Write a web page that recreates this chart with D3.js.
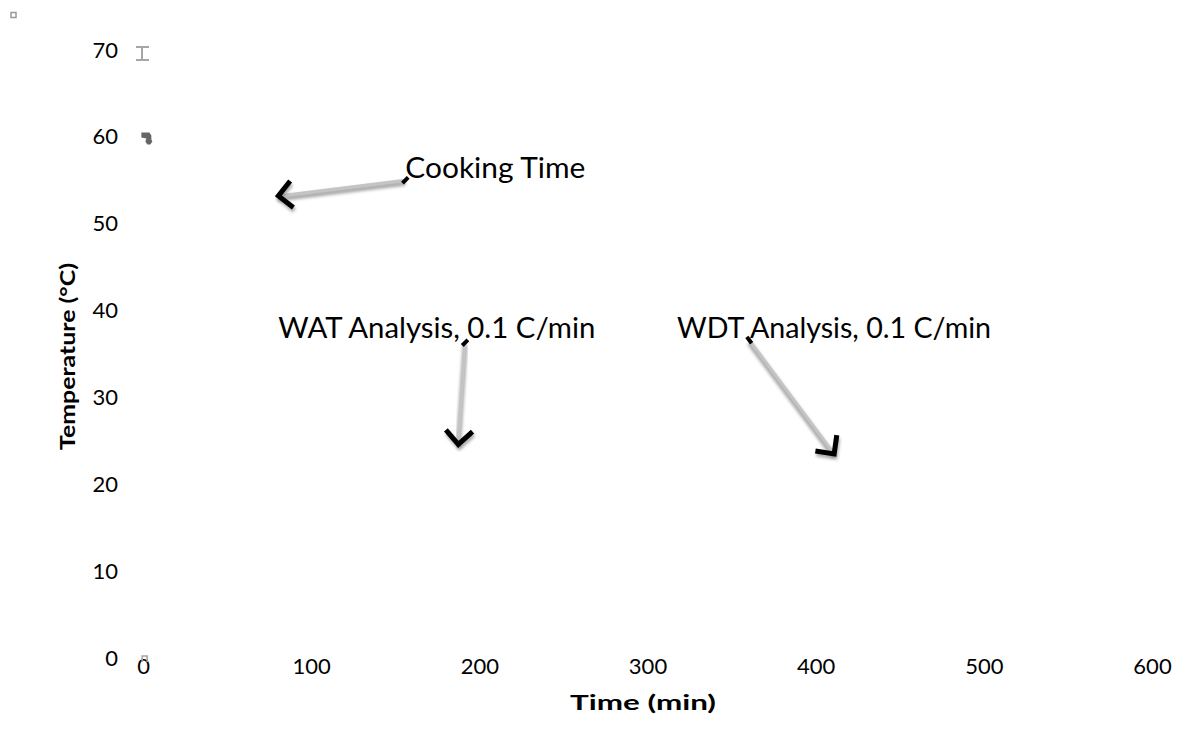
<!DOCTYPE html>
<html><head><meta charset="utf-8">
<script src="https://cdn.jsdelivr.net/npm/d3@7"></script>
<style>body{margin:0;background:#fff;} svg{display:block;}</style>
</head><body>
<svg id="chart" width="1198" height="745"></svg>
<script>
const xTicks = [0, 100, 200, 300, 400, 500, 600];
const yTicks = [0, 10, 20, 30, 40, 50, 60, 70];
const xTitle = "Time (min)";
const yTitle = "Temperature (°C)";
// series points (collapsed near time 0)
const errorBarPoint = [{x: 0, y: 70}];
const darkPoint = [{x: 2, y: 59.8}];
const lowPoint = [{x: 1, y: 0}];
// annotations: text anchor (data units) and arrow from -> to (data units)
const annoTexts = ["Cooking Time", "WAT Analysis, 0.1 C/min", "WDT Analysis, 0.1 C/min"];
const annoTextX = [156, 80.5, 317.6];
const annoTextY = [55.3, 36.8, 36.8];
const annoFromX = [156, 191.5, 360.5];
const annoFromY = [55.0, 36.3, 36.6];
const annoToX = [80.5, 187.5, 411];
const annoToY = [53.2, 24.6, 23.5];

const svg = d3.select("#chart");
const x = d3.scaleLinear().domain([0, 600]).range([143, 1152]);
const y = d3.scaleLinear().domain([0, 70]).range([658, 50]);
const font = "Lato, 'Open Sans', sans-serif";

const defs = svg.append("defs");
defs.append("filter").attr("id", "blur").attr("x", "-30%").attr("y", "-30%").attr("width", "160%").attr("height", "160%")
  .append("feGaussianBlur").attr("stdDeviation", 1.8);

// axes (lines hidden, labels only)
const xAxis = svg.append("g").attr("transform", `translate(0,${y(0)})`)
  .call(d3.axisBottom(x).tickValues(xTicks).tickSize(0).tickPadding(0));
xAxis.select(".domain").remove();
xAxis.selectAll("text").attr("font-family", font).attr("font-size", 22).attr("fill", "#000");

const yAxis = svg.append("g").attr("transform", `translate(${x(0)},0)`)
  .call(d3.axisLeft(y).tickValues(yTicks).tickSize(0).tickPadding(25));
yAxis.select(".domain").remove();
yAxis.selectAll("text").attr("font-family", font).attr("font-size", 22).attr("fill", "#000");

svg.append("text").attr("x", 570).attr("y", 710)
  .attr("font-family", font).attr("font-weight", "bold")
  .attr("font-size", 20).attr("textLength", 146).attr("lengthAdjust", "spacingAndGlyphs").text(xTitle);
svg.append("text").attr("transform", `translate(75,450) rotate(-90)`)
  .attr("font-family", font).attr("font-weight", "bold")
  .attr("font-size", 20).attr("textLength", 187).attr("lengthAdjust", "spacingAndGlyphs").text(yTitle);

// legend-like small square
svg.append("rect").attr("x", 11).attr("y", 12.5).attr("width", 5).attr("height", 5)
  .attr("fill", "none").attr("stroke", "#999").attr("stroke-width", 1.5);

// error bar glyph
errorBarPoint.forEach(d => {
  const g = svg.append("g").attr("stroke", "#a6a6a6").attr("stroke-width", 2).attr("fill", "none");
  g.append("line").attr("x1", x(d.x) - 7).attr("x2", x(d.x) + 6).attr("y1", y(d.y) - 3).attr("y2", y(d.y) - 3);
  g.append("line").attr("x1", x(d.x) - 1).attr("x2", x(d.x) - 1).attr("y1", y(d.y) - 3).attr("y2", y(d.y) + 10);
  g.append("line").attr("x1", x(d.x) - 7).attr("x2", x(d.x) + 6).attr("y1", y(d.y) + 10).attr("y2", y(d.y) + 10);
});
// dark marker
darkPoint.forEach(d => {
  const cx = x(d.x), cy = y(d.y);
  svg.append("path")
    .attr("d", `M${cx-5},${cy-6} L${cx+3},${cy-6} L${cx+5},${cy-3} L${cx+5},${cy+1} L${cx+6},${cy+3} L${cx+4},${cy+6} L${cx+1},${cy+6} L${cx-1},${cy+3} L${cx},${cy} L${cx-5},${cy-1} Z`)
    .attr("fill", "#666");
});
// low marker
lowPoint.forEach(d => {
  const cx = x(d.x), cy = y(d.y);
  svg.append("path").attr("d", `M${cx-2.5},${cy+4} L${cx-2.5},${cy-2} L${cx+2.5},${cy-2} L${cx+2.5},${cy+4}`)
    .attr("fill", "none").attr("stroke", "#a6a6a6").attr("stroke-width", 1.6);
});

// annotations
const textLens = [180, 317, 314];
annoTexts.forEach((t, i) => {
  const x1 = x(annoFromX[i]), y1 = y(annoFromY[i]);
  const x2 = x(annoToX[i]), y2 = y(annoToY[i]);
  const ang = Math.atan2(y2 - y1, x2 - x1);
  const g = svg.append("g");
  // shadowed shaft
  g.append("line").attr("x1", x1).attr("y1", y1 + 3).attr("x2", x2).attr("y2", y2 + 3)
    .attr("stroke", "#888").attr("stroke-width", 5).attr("filter", "url(#blur)").attr("opacity", 0.7);
  g.append("line").attr("x1", x1).attr("y1", y1).attr("x2", x2).attr("y2", y2)
    .attr("stroke", "#c4c4c4").attr("stroke-width", 3);
  // chevron head
  const L = 19, a = 0.78;
  const p1 = [x2 - L * Math.cos(ang - a), y2 - L * Math.sin(ang - a)];
  const p2 = [x2 - L * Math.cos(ang + a), y2 - L * Math.sin(ang + a)];
  const head = `M${p1[0]},${p1[1]} L${x2},${y2} L${p2[0]},${p2[1]}`;
  g.append("path").attr("d", head).attr("transform", "translate(1,3)").attr("fill", "none")
    .attr("stroke", "#777").attr("stroke-width", 5).attr("filter", "url(#blur)").attr("opacity", 0.6);
  g.append("path").attr("d", head).attr("fill", "none").attr("stroke", "#000")
    .attr("stroke-width", 5).attr("stroke-linejoin", "miter");
  // start tick
  const tAng = i === 2 ? ang : -Math.PI / 4;
  g.append("line")
    .attr("x1", x1 - 4 * Math.cos(tAng)).attr("y1", y1 - 4 * Math.sin(tAng))
    .attr("x2", x1 + 4 * Math.cos(tAng)).attr("y2", y1 + 4 * Math.sin(tAng))
    .attr("stroke", "#000").attr("stroke-width", 4);
  svg.append("text").attr("x", x(annoTextX[i])).attr("y", y(annoTextY[i]))
    .attr("font-family", font).attr("font-size", 29).attr("fill", "#000")
    .attr("textLength", textLens[i]).attr("lengthAdjust", "spacingAndGlyphs").text(t);
});
</script>
</body></html>
